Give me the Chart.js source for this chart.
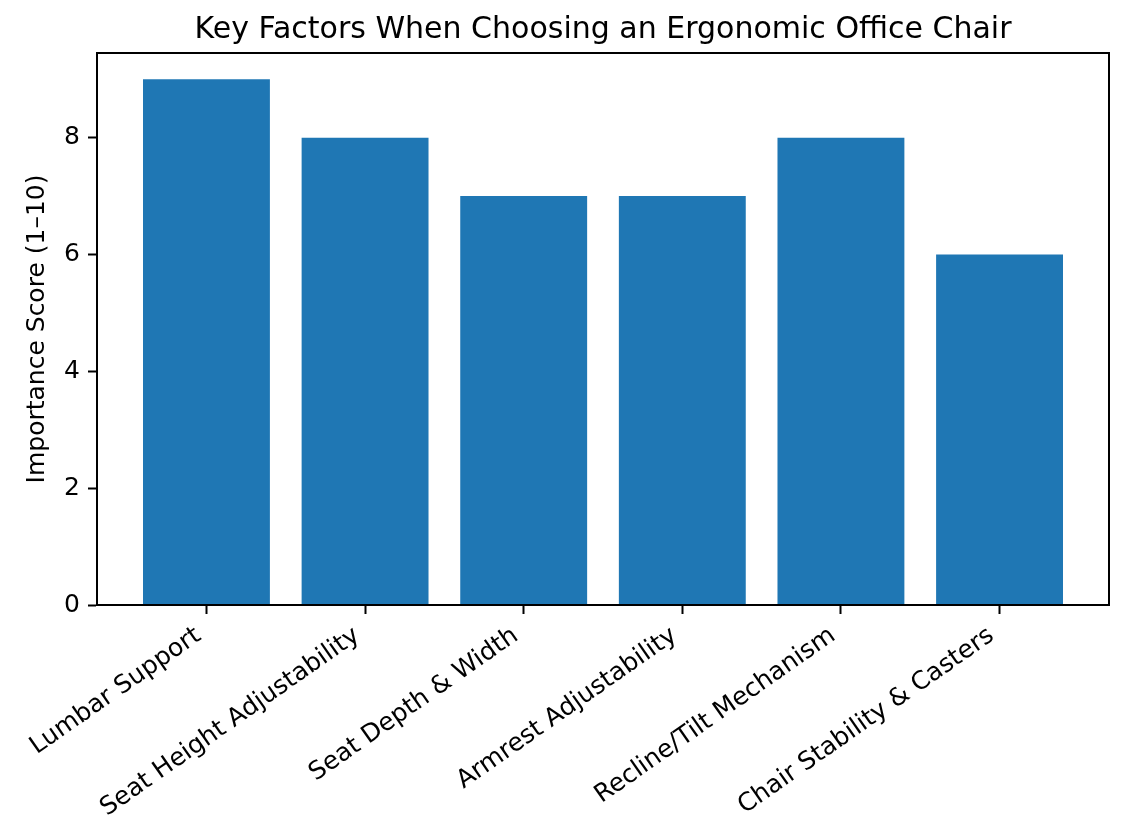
<!DOCTYPE html>
<html>
<head>
<meta charset="utf-8">
<script src="https://cdn.jsdelivr.net/npm/chart.js@4.4.1/dist/chart.umd.min.js"></script>
<style>
  body { margin: 0; background: #fff; }
  canvas { display: block; }
</style>
</head>
<body>
<canvas id="chairChart" width="1129" height="828"></canvas>
<script>
const factors = [
    'Lumbar Support',
    'Seat Height Adjustability',
    'Seat Depth & Width',
    'Armrest Adjustability',
    'Recline/Tilt Mechanism',
    'Chair Stability & Casters'
];
const scores = [9, 8, 7, 7, 8, 6];
const yTicks = [0, 2, 4, 6, 8];

const chartTitle = 'Key Factors When Choosing an Ergonomic Office Chair';
const font = 'DejaVu Sans';

// matplotlib style: full box around the axes + title centred on the axes
const framePlugin = {
    id: 'frame',
    afterDraw(chart) {
        const { ctx, chartArea } = chart;
        ctx.save();
        ctx.strokeStyle = '#000';
        ctx.lineWidth = 2;
        ctx.strokeRect(chartArea.left, chartArea.top, chartArea.right - chartArea.left, chartArea.bottom - chartArea.top);
        ctx.fillStyle = '#000';
        ctx.font = '30px "' + font + '"';
        ctx.textAlign = 'center';
        ctx.textBaseline = 'alphabetic';
        ctx.fillText(chartTitle, (chartArea.left + chartArea.right) / 2, chartArea.top - 15);
        ctx.restore();
    }
};

const ctx = document.getElementById('chairChart');

new Chart(ctx, {
    type: 'bar',
    data: {
        datasets: [{
            data: scores.map(function (v, i) { return { x: i, y: v }; }),
            backgroundColor: '#1f77b4',
            borderWidth: 0,
            barPercentage: 0.8,
            categoryPercentage: 1.0,
        }]
    },
    options: {
        responsive: false,
        animation: false,
        layout: {
            padding: { top: 53, right: 20, left: 0, bottom: 0 }
        },
        scales: {
            x: {
                type: 'linear',
                min: -0.69,
                max: 5.69,
                offset: false,
                afterBuildTicks: function (axis) {
                    axis.ticks = factors.map(function (f, i) { return { value: i }; });
                },
                afterFit: function (axis) {
                    axis.height = 223;
                },
                grid: {
                    offset: false,
                    drawOnChartArea: false,
                    drawTicks: true,
                    tickLength: 9,
                    tickWidth: 2,
                    tickColor: '#000',
                },
                border: { display: true, color: '#000', width: 2 },
                ticks: {
                    autoSkip: false,
                    minRotation: 35,
                    maxRotation: 35,
                    padding: 7,
                    labelOffset: -8,
                    color: '#000',
                    font: { family: font, size: 25 },
                    callback: function (value) { return factors[value]; }
                }
            },
            y: {
                min: 0,
                max: 9.45,
                afterBuildTicks: function (axis) {
                    axis.ticks = yTicks.map(function (v) { return { value: v }; });
                },
                afterFit: function (axis) {
                    axis.width = 97;
                },
                grid: {
                    drawOnChartArea: false,
                    drawTicks: true,
                    tickLength: 9,
                    tickWidth: 2,
                    tickColor: '#000',
                },
                border: { display: true, color: '#000', width: 2 },
                ticks: {
                    padding: 8,
                    color: '#000',
                    font: { family: font, size: 25 },
                },
                title: {
                    display: true,
                    text: 'Importance Score (1–10)',
                    color: '#000',
                    font: { family: font, size: 25 },
                    padding: { top: 22, bottom: 0 }
                }
            }
        },
        plugins: {
            legend: { display: false },
            tooltip: { enabled: false },
            title: { display: false }
        }
    },
    plugins: [framePlugin]
});
</script>
</body>
</html>
